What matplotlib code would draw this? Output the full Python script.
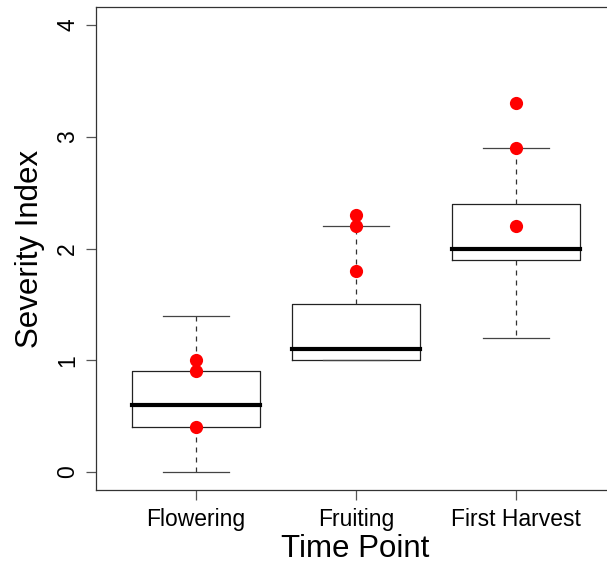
import matplotlib
matplotlib.use("Agg")
import matplotlib.pyplot as plt

plt.rcParams['font.family'] = ['Liberation Sans', 'DejaVu Sans']

groups = ["Flowering", "Fruiting", "First Harvest"]
whislo = [0.0, 1.0, 1.2]
q1 = [0.4, 1.0, 1.9]
med = [0.6, 1.1, 2.0]
q3 = [0.9, 1.5, 2.4]
whishi = [1.4, 2.2, 2.9]
points = [[1.0, 0.9, 0.4], [2.3, 2.2, 1.8], [3.3, 2.9, 2.2]]
yticks = [0, 1, 2, 3, 4]

fig = plt.figure(figsize=(6.07, 5.67), dpi=100)
# right edge of the plot frame falls outside the image (cropped R plot)
ax = fig.add_axes([96 / 607, 77 / 567, (615 - 96) / 607, (490 - 7) / 567])

stats = []
for i, g in enumerate(groups):
    stats.append(dict(label=g, whislo=whislo[i], q1=q1[i], med=med[i],
                      q3=q3[i], whishi=whishi[i], fliers=[]))

ax.bxp(stats, positions=[1, 2, 3], widths=0.8, showfliers=False,
       boxprops=dict(color="#222222", linewidth=0.9),
       medianprops=dict(color="black", linewidth=3, solid_capstyle="projecting"),
       whiskerprops=dict(color="#333333", linewidth=0.9, linestyle=(0, (4, 4))),
       capprops=dict(color="#444444", linewidth=0.9),
       capwidths=0.41)

for i, pts in enumerate(points):
    ax.plot([i + 1] * len(pts), pts, "o", color="red", markersize=9.5,
            markeredgewidth=0, zorder=5)

ax.set_xlim(0.375, 3.62)
ax.set_ylim(-0.16, 4.16)
ax.set_yticks(yticks)
ax.set_yticklabels([str(t) for t in yticks], rotation=90, va="center")
ax.set_xticks([1, 2, 3])
ax.set_xticklabels(groups)
ax.tick_params(axis="both", labelsize=16.5, length=7, width=0.9, color="#555555")
ax.tick_params(axis="x", pad=6)
ax.tick_params(axis="y", pad=5)

for s in ax.spines.values():
    s.set_color("#333333")
    s.set_linewidth(0.9)

ax.set_xlabel("Time Point", fontsize=22.5, labelpad=2)
ax.set_ylabel("Severity Index", fontsize=22.5, labelpad=8)

fig.savefig("out.png", dpi=100)
